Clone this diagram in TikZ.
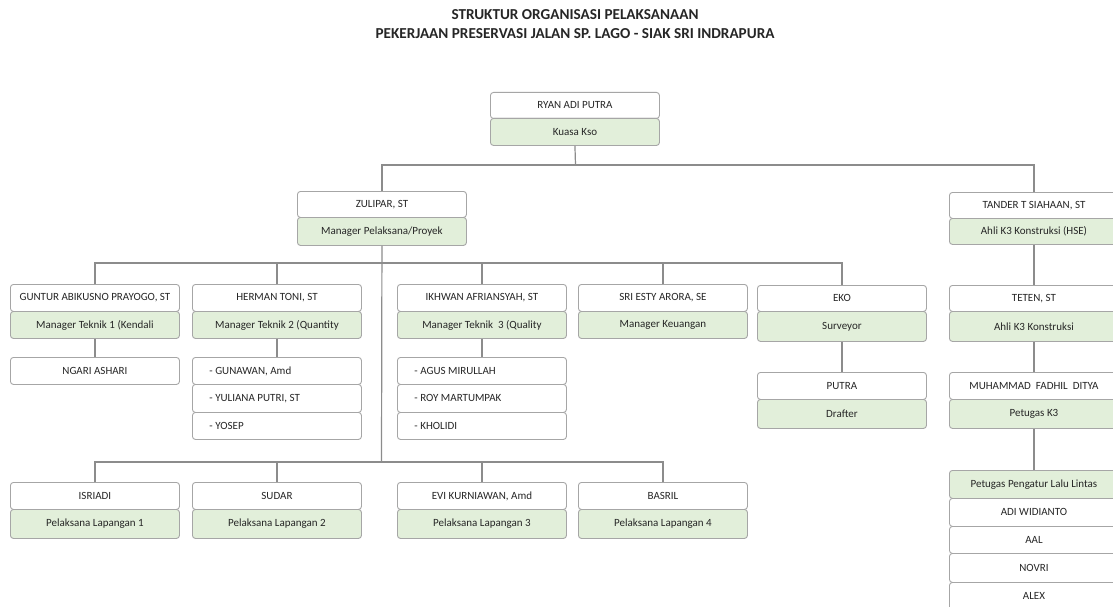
\documentclass[tikz,border=0pt]{standalone}
\usepackage{fontspec}
\setmainfont{Carlito}
\definecolor{gfill}{HTML}{E2EFDA}
\definecolor{bord}{HTML}{A6A6A6}
\definecolor{lin}{HTML}{8C8C8C}
\definecolor{txt}{HTML}{262626}
\newcommand{\lft}[1]{\makebox[135pt][l]{#1}}
\begin{document}
\begin{tikzpicture}[x=1pt,y=-1pt,
  base/.style={draw=bord, line width=0.9pt, rounded corners=3pt, anchor=north west, inner sep=0pt, minimum width=169pt, text=txt, font=\fontsize{11}{12}\selectfont},
  wbox/.style={base, fill=white},
  gbox/.style={base, fill=gfill},
  lbox/.style={base, fill=white},
  conn/.style={draw=lin, line width=1.2pt}]
\clip (0,0) rectangle (1113,607);
\useasboundingbox (0,0) rectangle (1113,607);
\fill[white] (0,0) rectangle (1113,607);
% title
\node[font=\bfseries\fontsize{15.2}{19}\selectfont, text=txt, align=center] (title) at (575,24) {STRUKTUR ORGANISASI PELAKSANAAN\\PEKERJAAN PRESERVASI JALAN SP. LAGO - SIAK SRI INDRAPURA};
% top
\node[wbox, minimum height=26pt] (ryan) at (490,92) {RYAN ADI PUTRA};
\node[gbox, minimum height=27pt] (ryang) at (490,118) {Kuasa Kso};
\node[wbox, minimum height=26pt] (zul) at (297,191) {ZULIPAR, ST};
\node[gbox, minimum height=28pt] (zulg) at (297,217) {Manager Pelaksana/Proyek};
\node[wbox, minimum height=26pt] (tan) at (949,192) {TANDER T SIAHAAN, ST};
\node[gbox, minimum height=26pt] (tang) at (949,218) {Ahli K3 Konstruksi (HSE)};
% row 2
\node[wbox, minimum height=27pt] (gun) at (10,284) {GUNTUR ABIKUSNO PRAYOGO, ST};
\node[gbox, minimum height=27pt] (gung) at (10,311) {Manager Teknik 1 (Kendali};
\node[wbox, minimum height=27pt] (her) at (192,284) {HERMAN TONI, ST};
\node[gbox, minimum height=27pt] (herg) at (192,311) {Manager Teknik 2 (Quantity};
\node[wbox, minimum height=27pt] (ikh) at (397,284) {IKHWAN AFRIANSYAH, ST};
\node[gbox, minimum height=27pt] (ikhg) at (397,311) {Manager Teknik \ 3 (Quality};
\node[wbox, minimum height=27pt] (sri) at (578,284) {SRI ESTY ARORA, SE};
\node[gbox, minimum height=27pt] (srig) at (578,311) {Manager Keuangan};
\node[wbox, minimum height=26pt] (eko) at (757,285) {EKO};
\node[gbox, minimum height=30pt] (ekog) at (757,311) {Surveyor};
\node[wbox, minimum height=26pt] (tet) at (949,285) {TETEN, ST};
\node[gbox, minimum height=30pt] (tetg) at (949,311) {Ahli K3 Konstruksi};
% sub rows
\node[wbox, minimum height=27pt] (nga) at (10,357) {NGARI ASHARI};
\node[lbox, minimum height=27pt] (h1) at (192,357) {\lft{- GUNAWAN, Amd}};
\node[lbox, minimum height=28pt] (h2) at (192,384) {\lft{- YULIANA PUTRI, ST}};
\node[lbox, minimum height=27pt] (h3) at (192,412) {\lft{- YOSEP}};
\node[lbox, minimum height=27pt] (i1) at (397,357) {\lft{- AGUS MIRULLAH}};
\node[lbox, minimum height=28pt] (i2) at (397,384) {\lft{- ROY MARTUMPAK}};
\node[lbox, minimum height=27pt] (i3) at (397,412) {\lft{- KHOLIDI}};
\node[wbox, minimum height=27pt] (put) at (757,372) {PUTRA};
\node[gbox, minimum height=29pt] (putg) at (757,399) {Drafter};
\node[wbox, minimum height=27pt] (muh) at (949,372) {MUHAMMAD \ FADHIL \ DITYA};
\node[gbox, minimum height=29pt] (muhg) at (949,399) {Petugas K3};
% bottom row
\node[wbox, minimum height=27pt] (isr) at (10,482) {ISRIADI};
\node[gbox, minimum height=29pt] (isrg) at (10,509) {Pelaksana Lapangan 1};
\node[wbox, minimum height=27pt] (sud) at (192,482) {SUDAR};
\node[gbox, minimum height=29pt] (sudg) at (192,509) {Pelaksana Lapangan 2};
\node[wbox, minimum height=27pt] (evi) at (397,482) {EVI KURNIAWAN, Amd};
\node[gbox, minimum height=29pt] (evig) at (397,509) {Pelaksana Lapangan 3};
\node[wbox, minimum height=27pt] (bas) at (578,482) {BASRIL};
\node[gbox, minimum height=29pt] (basg) at (578,509) {Pelaksana Lapangan 4};
% right bottom list
\node[gbox, minimum height=28pt] (ppl) at (949,470) {Petugas Pengatur Lalu Lintas};
\node[wbox, minimum height=28pt] (adi) at (949,498) {ADI WIDIANTO};
\node[wbox, minimum height=27pt] (aal) at (949,526) {AAL};
\node[wbox, minimum height=29pt] (nov) at (949,553) {NOVRI};
\node[wbox, minimum height=28pt] (ale) at (949,582) {ALEX};
% junctions
\coordinate (j1) at (575.5,165);
\coordinate (j2) at (381.5,263);
\coordinate (j3) at (381.5,462);
% connectors
\draw[conn] (ryang.south) -- (j1);
\draw[conn] (zul.north) |- (j1);
\draw[conn] (tan.north) |- (j1);
\draw[conn] (zulg.south) -- (j3);
\draw[conn] (gun.north) |- (j2);
\draw[conn] (her.north) |- (j2);
\draw[conn] (ikh.north) |- (j2);
\draw[conn] (sri.north) |- (j2);
\draw[conn] (eko.north) |- (j2);
\draw[conn] (isr.north) |- (j3);
\draw[conn] (sud.north) |- (j3);
\draw[conn] (evi.north) |- (j3);
\draw[conn] (bas.north) |- (j3);
\draw[conn] (gung.south) -- (nga.north);
\draw[conn] (herg.south) -- (h1.north);
\draw[conn] (ikhg.south) -- (i1.north);
\draw[conn] (ekog.south) -- (put.north);
\draw[conn] (tang.south) -- (tet.north);
\draw[conn] (tetg.south) -- (muh.north);
\draw[conn] (muhg.south) -- (ppl.north);
\end{tikzpicture}
\end{document}
